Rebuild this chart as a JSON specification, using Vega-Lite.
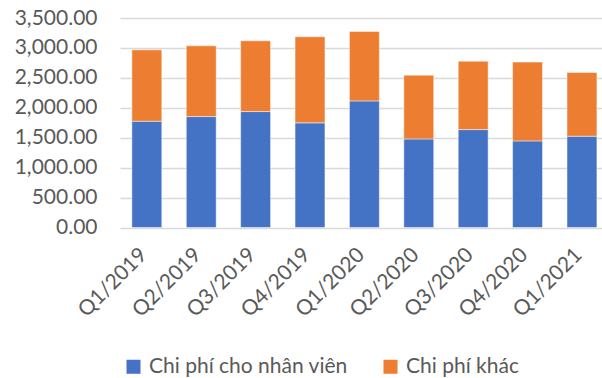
{
  "$schema": "https://vega.github.io/schema/vega-lite/v6.json",
  "width": 482,
  "height": 209.5,
  "autosize": {"type": "none"},
  "padding": {"left": 120, "top": 18, "right": 0, "bottom": 150.5},
  "background": "white",
  "config": {"view": {"stroke": null}, "font": "Lato"},
  "data": {"values": [
    {"q": "Q1/2019", "s": "Chi phí cho nhân viên", "o": 1, "v": 1776},
    {"q": "Q1/2019", "s": "Chi phí khác", "o": 2, "v": 1192},
    {"q": "Q2/2019", "s": "Chi phí cho nhân viên", "o": 1, "v": 1853},
    {"q": "Q2/2019", "s": "Chi phí khác", "o": 2, "v": 1182},
    {"q": "Q3/2019", "s": "Chi phí cho nhân viên", "o": 1, "v": 1937},
    {"q": "Q3/2019", "s": "Chi phí khác", "o": 2, "v": 1182},
    {"q": "Q4/2019", "s": "Chi phí cho nhân viên", "o": 1, "v": 1748},
    {"q": "Q4/2019", "s": "Chi phí khác", "o": 2, "v": 1438},
    {"q": "Q1/2020", "s": "Chi phí cho nhân viên", "o": 1, "v": 2115},
    {"q": "Q1/2020", "s": "Chi phí khác", "o": 2, "v": 1160},
    {"q": "Q2/2020", "s": "Chi phí cho nhân viên", "o": 1, "v": 1480},
    {"q": "Q2/2020", "s": "Chi phí khác", "o": 2, "v": 1065},
    {"q": "Q3/2020", "s": "Chi phí cho nhân viên", "o": 1, "v": 1636},
    {"q": "Q3/2020", "s": "Chi phí khác", "o": 2, "v": 1143},
    {"q": "Q4/2020", "s": "Chi phí cho nhân viên", "o": 1, "v": 1447},
    {"q": "Q4/2020", "s": "Chi phí khác", "o": 2, "v": 1316},
    {"q": "Q1/2021", "s": "Chi phí cho nhân viên", "o": 1, "v": 1525},
    {"q": "Q1/2021", "s": "Chi phí khác", "o": 2, "v": 1064}
  ]},
  "mark": {"type": "bar", "stroke": "#ffffff", "strokeWidth": 0.8, "strokeOpacity": 0.6},
  "encoding": {
    "x": {
      "field": "q", "type": "nominal", "sort": null,
      "scale": {"paddingInner": 0.45, "paddingOuter": 0.156, "align": 0.7},
      "axis": {
        "title": null, "labelAngle": -45, "labelAlign": "right", "labelBaseline": "middle",
        "labelFontSize": 21, "labelColor": "#595959", "labelPadding": 24, "labelOffset": -3,
        "ticks": false, "domain": false, "grid": false, "labelFont": "Lato"
      }
    },
    "y": {
      "field": "v", "type": "quantitative", "stack": "zero",
      "scale": {"domain": [0, 3500], "nice": false},
      "axis": {
        "title": null, "values": [0, 500, 1000, 1500, 2000, 2500, 3000, 3500],
        "format": ",.2f", "labelFontSize": 21, "labelColor": "#595959",
        "labelPadding": 23, "ticks": false, "domain": false,
        "gridColor": "#D9D9D9", "gridWidth": 1.3, "labelFont": "Lato"
      }
    },
    "color": {
      "field": "s", "type": "nominal",
      "scale": {"domain": ["Chi phí cho nhân viên", "Chi phí khác"], "range": ["#4472C4", "#ED7D31"]},
      "legend": {
        "title": null, "orient": "none", "direction": "horizontal",
        "legendX": 3, "legendY": 338,
        "symbolType": "square", "symbolSize": 196, "symbolStrokeWidth": 0,
        "labelFontSize": 21, "labelColor": "#595959", "labelFont": "Lato", "labelLimit": 400,
        "columnPadding": 32, "labelOffset": 5
      }
    },
    "order": {"field": "o", "type": "quantitative"}
  }
}
